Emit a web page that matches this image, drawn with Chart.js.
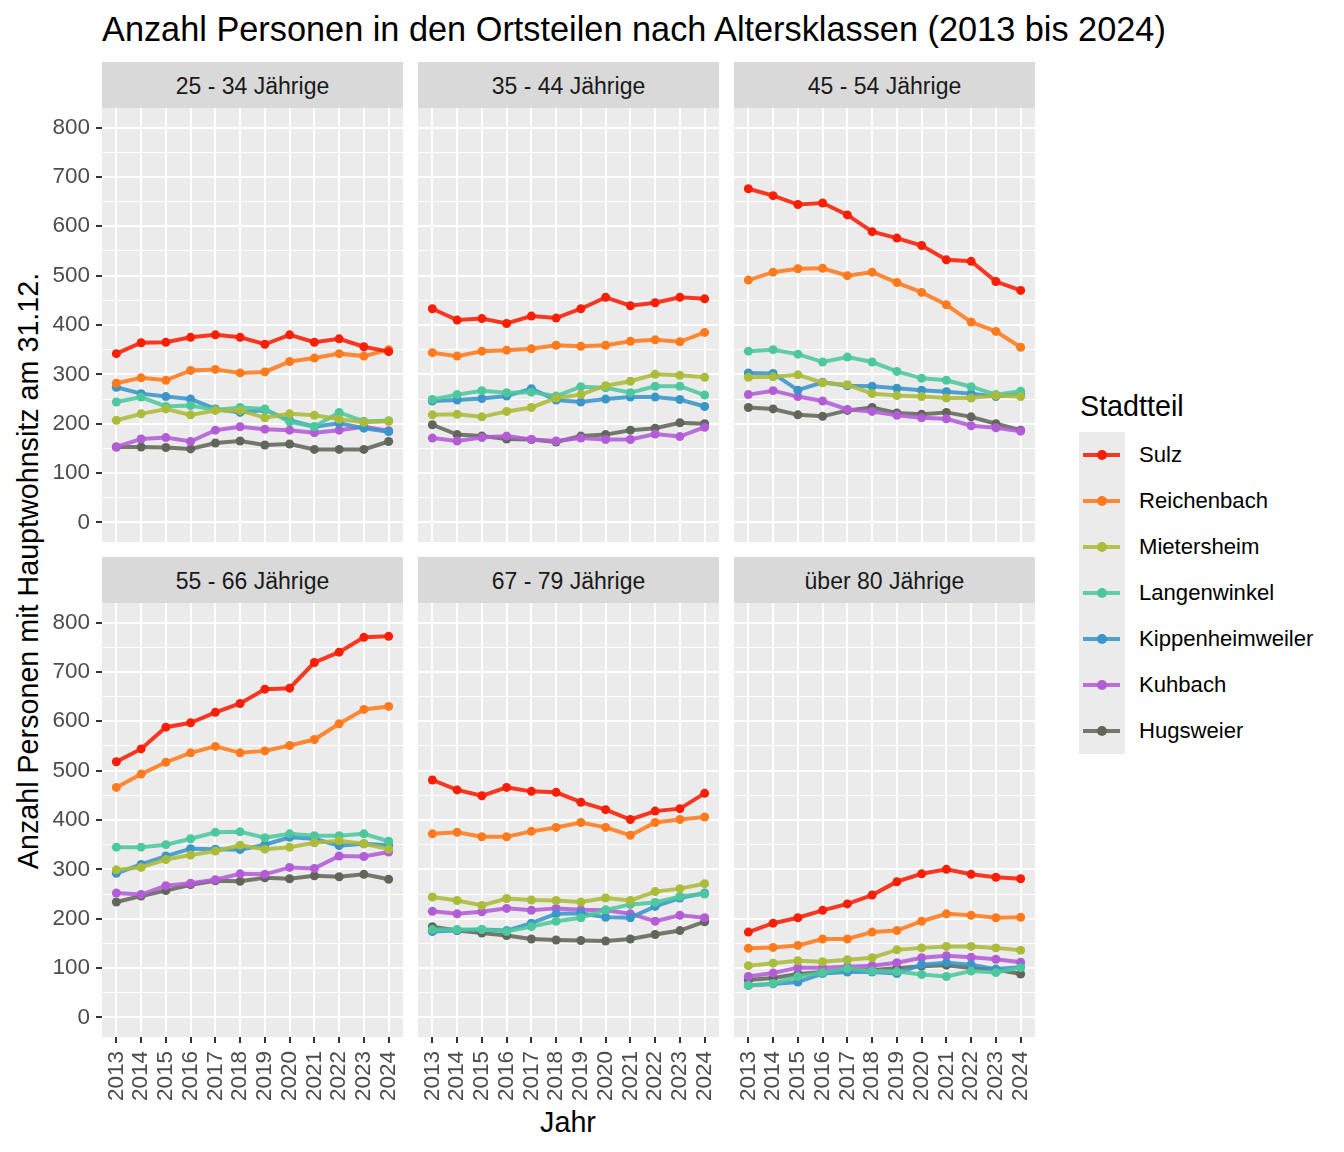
<!DOCTYPE html>
<html lang="de">
<head>
<meta charset="utf-8">
<script src="https://cdn.jsdelivr.net/npm/chart.js@4/dist/chart.umd.min.js"></script>
<style>
  body { margin: 0; background: #fff; font-family: "Liberation Sans", Arial, sans-serif; }
  #page { position: relative; width: 1344px; height: 1152px; overflow: hidden; }
  .abs { position: absolute; white-space: nowrap; }
  .strip { background: #D9D9D9; color: #1A1A1A; font-size: 23px; display: flex; align-items: center; justify-content: center; padding-top: 3px; box-sizing: border-box; }
  .key { position: absolute; left: 1079px; width: 46px; height: 46px; }
  .key .ln { position: absolute; left: 4px; width: 37px; top: 21px; height: 4px; }
  .key .pt { position: absolute; left: 18px; top: 18px; width: 10px; height: 10px; border-radius: 50%; }
  .lab { position: absolute; left: 1139px; font-size: 22.1px; line-height: 46px; color: #000; }
</style>
</head>
<body>
<div id="page">
  <div class="abs" id="titel" style="left:102px; top:9px; font-size:34.3px; line-height:40px; color:#000;">Anzahl Personen in den Ortsteilen nach Altersklassen (2013 bis 2024)</div>
  <div class="abs" style="left:568px; top:1104px; width:0; font-size:28.7px; line-height:36px; color:#000;"><span style="position:absolute; transform:translateX(-50%);">Jahr</span></div>
  <div class="abs" style="left:28px; top:571px; font-size:28.7px; line-height:36px; color:#000; transform:translate(-50%,-50%) rotate(-90deg);">Anzahl Personen mit Hauptwohnsitz am 31.12.</div>
  <div class="abs" style="left:1080px; top:388px; font-size:28.7px; line-height:36px; color:#000;">Stadtteil</div>
  <div id="legende"></div>
</div>
<script>
// Jahre (x-Achse)
const jahre = [2013, 2014, 2015, 2016, 2017, 2018, 2019, 2020, 2021, 2022, 2023, 2024];
const altersklassen = ["25 - 34 Jährige", "35 - 44 Jährige", "45 - 54 Jährige", "55 - 66 Jährige", "67 - 79 Jährige", "über 80 Jährige"];
const stadtteile = ["Sulz", "Reichenbach", "Mietersheim", "Langenwinkel", "Kippenheimweiler", "Kuhbach", "Hugsweier"];
const farben = ["#F91E06", "#FF7A1C", "#ABBB3A", "#4DC79E", "#3A95C9", "#B25CD6", "#62665A"];
const yTicks = [0, 50, 100, 150, 200, 250, 300, 350, 400, 450, 500, 550, 600, 650, 700, 750, 800];

// Werte je Stadtteil, eine Zeile je Altersklasse (in der Reihenfolge oben)
const sulz = [
  [342, 364, 365, 375, 380, 375, 361, 380, 365, 372, 356, 346],
  [433, 410, 413, 403, 418, 414, 433, 456, 439, 445, 456, 453],
  [676, 662, 644, 647, 623, 589, 576, 561, 532, 529, 488, 470],
  [518, 544, 588, 597, 618, 636, 665, 667, 719, 740, 770, 772],
  [481, 461, 449, 466, 458, 456, 436, 421, 401, 418, 423, 454],
  [173, 191, 202, 217, 230, 248, 275, 291, 300, 290, 284, 281]
];
const reichenbach = [
  [282, 293, 288, 308, 310, 303, 305, 326, 333, 342, 337, 350],
  [344, 337, 347, 349, 352, 359, 357, 359, 367, 370, 366, 385],
  [491, 507, 514, 515, 500, 507, 486, 466, 441, 406, 387, 355],
  [466, 493, 517, 536, 549, 536, 540, 551, 563, 595, 624, 630],
  [372, 375, 366, 366, 377, 385, 395, 385, 369, 395, 401, 406],
  [140, 142, 146, 159, 159, 173, 176, 195, 210, 207, 202, 203]
];
const mietersheim = [
  [207, 220, 230, 218, 227, 227, 212, 220, 217, 209, 203, 205],
  [218, 219, 214, 225, 233, 252, 259, 277, 286, 300, 298, 294],
  [294, 295, 299, 283, 279, 261, 257, 255, 252, 252, 257, 255],
  [299, 304, 320, 329, 337, 349, 341, 345, 354, 358, 352, 341],
  [244, 237, 227, 241, 238, 237, 234, 242, 237, 255, 261, 271],
  [105, 110, 115, 113, 117, 121, 137, 141, 144, 144, 141, 136]
];
const langenwinkel = [
  [244, 254, 235, 237, 228, 233, 230, 204, 194, 223, 205, 206],
  [249, 259, 267, 263, 264, 256, 275, 273, 263, 276, 276, 258],
  [347, 350, 341, 325, 335, 325, 306, 292, 288, 275, 259, 266],
  [345, 345, 350, 362, 375, 376, 364, 372, 368, 368, 372, 357],
  [178, 178, 178, 174, 184, 195, 202, 218, 229, 233, 245, 250],
  [65, 69, 83, 91, 99, 94, 93, 87, 83, 94, 91, 101]
];
const kippenheimweiler = [
  [274, 261, 255, 250, 230, 223, 228, 207, 194, 201, 191, 184],
  [246, 248, 251, 256, 271, 248, 244, 250, 254, 254, 249, 235],
  [303, 302, 268, 284, 277, 276, 272, 268, 265, 261, 255, 261],
  [292, 310, 327, 342, 341, 340, 350, 365, 362, 348, 352, 349],
  [174, 176, 178, 176, 191, 210, 211, 203, 202, 225, 242, 252],
  [65, 68, 72, 89, 92, 92, 89, 107, 111, 107, 98, 102]
];
const kuhbach = [
  [153, 169, 172, 164, 187, 194, 189, 187, 182, 187, 194, 186],
  [171, 165, 172, 175, 168, 165, 171, 168, 168, 179, 174, 193],
  [259, 267, 255, 246, 229, 225, 217, 212, 210, 196, 192, 185],
  [252, 249, 267, 272, 279, 291, 290, 304, 302, 327, 326, 335],
  [215, 210, 214, 221, 217, 221, 218, 217, 210, 195, 207, 202],
  [83, 90, 101, 101, 103, 105, 111, 121, 125, 122, 118, 112]
];
const hugsweier = [
  [153, 153, 152, 149, 161, 165, 157, 159, 148, 148, 148, 164],
  [198, 178, 175, 169, 168, 163, 175, 178, 187, 191, 202, 200],
  [233, 230, 218, 215, 227, 233, 222, 219, 223, 214, 200, 187],
  [234, 246, 257, 269, 277, 276, 283, 281, 287, 285, 290, 280],
  [184, 176, 171, 166, 159, 157, 156, 155, 159, 168, 176, 194],
  [76, 80, 88, 92, 96, 96, 100, 104, 106, 100, 97, 88]
];
const werte = [sulz, reichenbach, mietersheim, langenwinkel, kippenheimweiler, kuhbach, hugsweier];

const page = document.getElementById("page");
const spalten = [102, 418, 734];
const zeilen = [108, 603];
const plotW = 301, plotH = 434, stripH = 46;
const yAchseW = 62, xAchseH = 72;
const schrift = { family: "'Liberation Sans', Arial, sans-serif", size: 22.5 };

function mitAlpha(hex, a) {
  const n = parseInt(hex.slice(1), 16);
  return `rgba(${n >> 16},${(n >> 8) & 255},${n & 255},${a})`;
}

const hintergrund = {
  id: "hintergrund",
  beforeDraw(chart) {
    const { ctx, chartArea: a } = chart;
    ctx.save();
    ctx.fillStyle = "#EBEBEB";
    ctx.fillRect(a.left, a.top, a.right - a.left, a.bottom - a.top);
    ctx.restore();
  }
};

altersklassen.forEach((klasse, i) => {
  const sp = i % 3, ze = Math.floor(i / 3);
  const zeigeY = sp === 0, zeigeX = ze === 1;
  const links = spalten[sp], oben = zeilen[ze];

  const strip = document.createElement("div");
  strip.className = "abs strip";
  strip.style.cssText = `left:${links}px; top:${oben - stripH}px; width:${plotW}px; height:${stripH}px;`;
  strip.textContent = klasse;
  page.appendChild(strip);

  const w = plotW + (zeigeY ? yAchseW : 0);
  const h = plotH + (zeigeX ? xAchseH : 0);
  const canvas = document.createElement("canvas");
  canvas.width = w; canvas.height = h;
  canvas.style.cssText = `position:absolute; left:${links - (zeigeY ? yAchseW : 0)}px; top:${oben}px; width:${w}px; height:${h}px;`;
  page.appendChild(canvas);

  new Chart(canvas, {
    type: "line",
    data: {
      datasets: stadtteile.map((name, s) => ({
        label: name,
        data: werte[s][i].map((v, j) => ({ x: jahre[j], y: v })),
        borderColor: mitAlpha(farben[s], 0.88),
        backgroundColor: farben[s],
        pointBackgroundColor: farben[s],
        borderWidth: 4,
        pointRadius: 4.5,
        pointBorderWidth: 0,
        tension: 0
      }))
    },
    options: {
      responsive: false,
      animation: false,
      layout: { padding: 0, autoPadding: false },
      plugins: { legend: { display: false }, tooltip: { enabled: false } },
      scales: {
        x: {
          type: "linear",
          min: 2012.42,
          max: 2024.58,
          afterBuildTicks: (s) => { s.ticks = jahre.map((v) => ({ value: v })); },
          afterFit: (s) => { s.height = zeigeX ? xAchseH : 0; s.paddingLeft = 0; s.paddingRight = 0; },
          border: { display: false },
          grid: { color: "#FFFFFF", lineWidth: 2, drawTicks: zeigeX, tickLength: 6, tickColor: "#333333", tickWidth: 2 },
          ticks: { display: zeigeX, autoSkip: false, minRotation: 90, maxRotation: 90, padding: 8, color: "#4D4D4D", font: schrift, callback: (v) => String(v) }
        },
        y: {
          min: -39.5,
          max: 839.5,
          afterBuildTicks: (s) => { s.ticks = yTicks.map((v) => ({ value: v })); },
          afterFit: (s) => { s.width = zeigeY ? yAchseW : 0; s.paddingTop = 0; s.paddingBottom = 0; },
          border: { display: false },
          grid: {
            color: "#FFFFFF",
            lineWidth: (c) => (c.tick && c.tick.value % 100 === 0 ? 2 : 1),
            drawTicks: zeigeY,
            tickLength: 6,
            tickWidth: 2,
            tickColor: (c) => (c.tick && c.tick.value % 100 === 0 ? "#333333" : "rgba(0,0,0,0)")
          },
          ticks: { display: zeigeY, autoSkip: false, padding: 6, color: "#4D4D4D", font: schrift, callback: (v) => (v % 100 === 0 ? String(v) : "") }
        }
      }
    },
    plugins: [hintergrund]
  });
});

// Legende
const legende = document.getElementById("legende");
const bg = document.createElement("div");
bg.className = "abs";
bg.style.cssText = "left:1079px; top:432px; width:46px; height:" + (46 * stadtteile.length) + "px; background:#EBEBEB;";
legende.appendChild(bg);
stadtteile.forEach((name, s) => {
  const top = 432 + s * 46;
  const key = document.createElement("div");
  key.className = "key";
  key.style.top = top + "px";
  key.innerHTML = `<div class="ln" style="background:${mitAlpha(farben[s], 0.88)}"></div><div class="pt" style="background:${farben[s]}"></div>`;
  legende.appendChild(key);
  const lab = document.createElement("div");
  lab.className = "lab";
  lab.style.top = top + "px";
  lab.textContent = name;
  legende.appendChild(lab);
});
</script>
</body>
</html>
